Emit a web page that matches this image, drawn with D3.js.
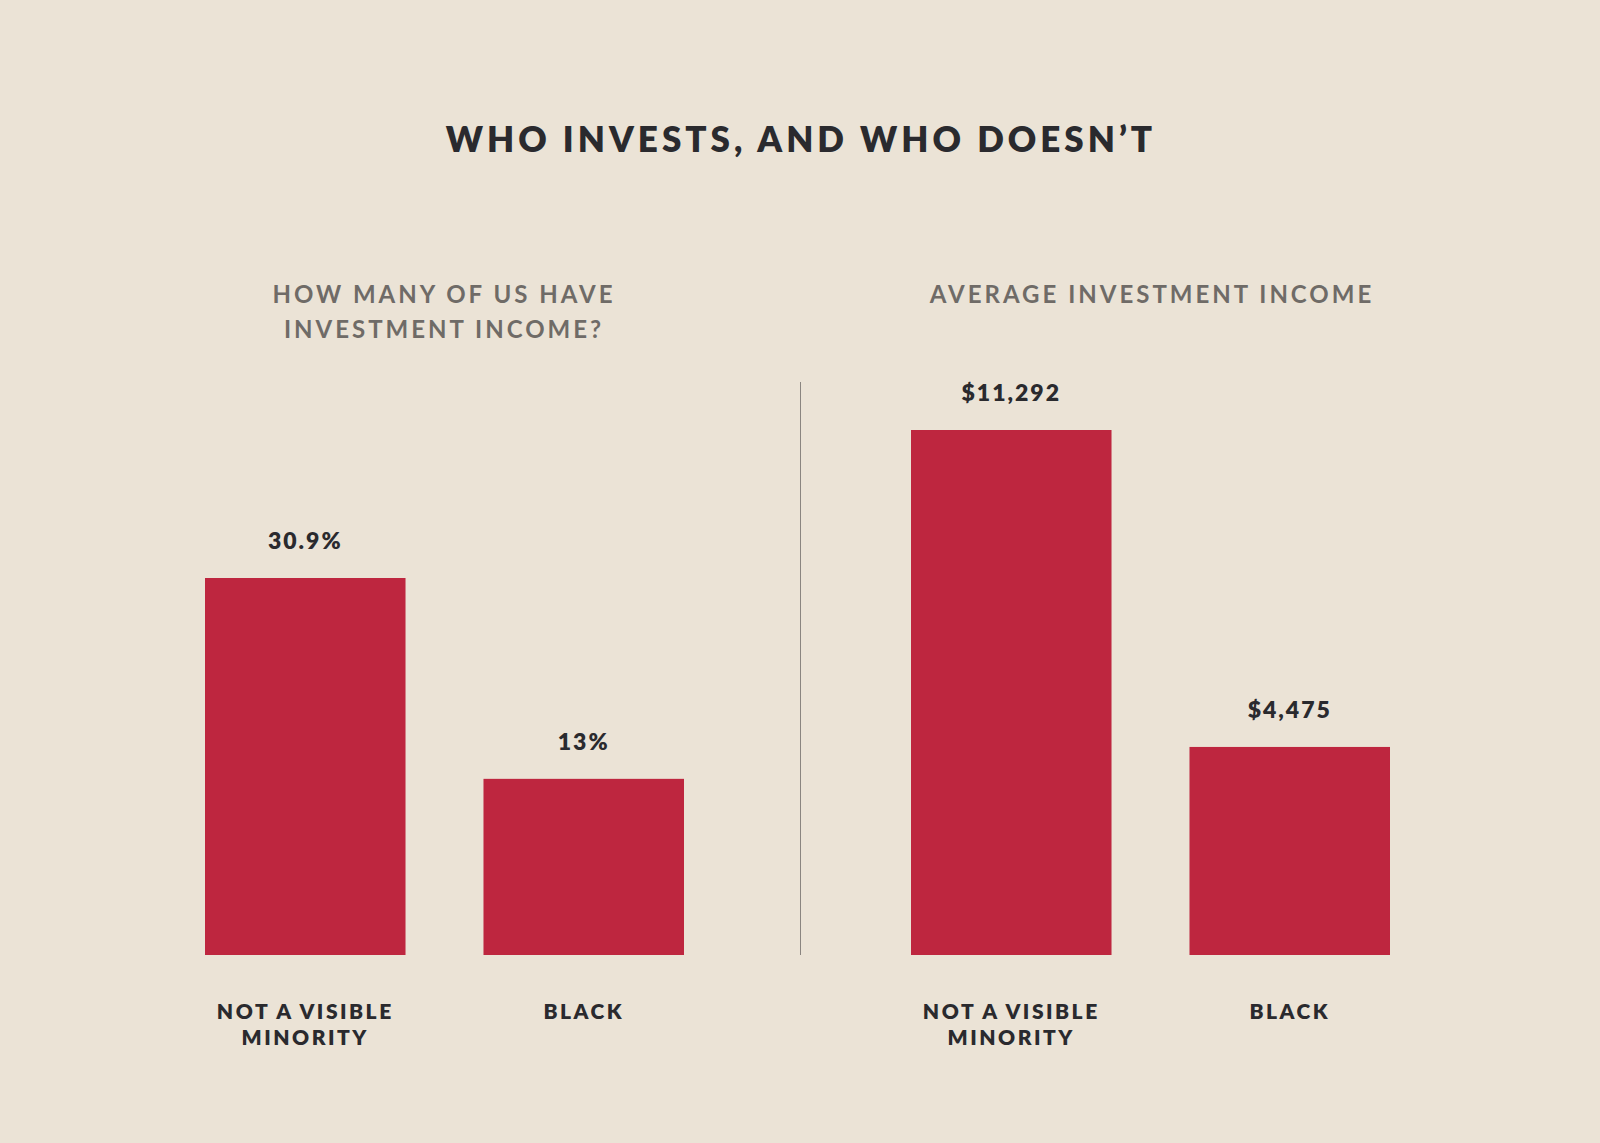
<!DOCTYPE html>
<html><head><meta charset="utf-8">
<script src="https://cdn.jsdelivr.net/npm/d3@7"></script>
<style>body{margin:0;background:#ebe3d6}</style></head>
<body><svg id="c" width="1600" height="1143"></svg>
<script>
const categories = [["NOT A VISIBLE","MINORITY"],["BLACK"]];
const shareValues = [30.9, 13];
const shareLabels = ["30.9%", "13%"];
const incomeValues = [11292, 4475];
const incomeLabels = ["$11,292", "$4,475"];

const svg = d3.select("#c");
svg.append("rect").attr("width",1600).attr("height",1143).attr("fill","#ebe3d6");
const font = "Lato, 'Open Sans', sans-serif";
const dark = "#2a2a2e", gray = "#6f6b67", red = "#be263f";

svg.append("text").attr("x",801).attr("y",152).attr("text-anchor","middle")
  .attr("font-family",font).attr("font-weight",800).attr("font-size",35)
  .attr("letter-spacing",4).attr("fill",dark).text("WHO INVESTS, AND WHO DOESN\u2019T");

function panel(cx, titleLines, values, labels, xRange, yDomain){
  titleLines.forEach((t,i)=>svg.append("text").attr("x",cx).attr("y",303+i*35)
    .attr("text-anchor","middle").attr("font-family",font).attr("font-weight",700)
    .attr("font-size",24).attr("letter-spacing",3).attr("fill",gray).text(t));
  const x = d3.scaleBand().domain(d3.range(values.length)).range(xRange).paddingInner(0.28);
  const y = d3.scaleLinear().domain(yDomain).range([955, yDomain[1]===30.9?578:430]);
  const g = svg.append("g");
  values.forEach((v,i)=>{
    g.append("rect").attr("x",x(i)).attr("width",x.bandwidth())
      .attr("y",y(v)).attr("height",955-y(v)).attr("fill",red);
    g.append("text").attr("x",x(i)+x.bandwidth()/2).attr("y",y(v)-29)
      .attr("text-anchor","middle").attr("font-family",font).attr("font-weight",800)
      .attr("font-size",23).attr("letter-spacing",2).attr("fill",dark).text(labels[i]);
    categories[i].forEach((t,j)=>g.append("text").attr("x",x(i)+x.bandwidth()/2)
      .attr("y",1019+j*26).attr("text-anchor","middle").attr("font-family",font)
      .attr("font-weight",800).attr("font-size",21).attr("letter-spacing",2.5)
      .attr("fill",dark).text(t));
  });
}
panel(444, ["HOW MANY OF US HAVE","INVESTMENT INCOME?"], shareValues, shareLabels, [205,684], [-2.7,30.9]);
panel(1152, ["AVERAGE INVESTMENT INCOME"], incomeValues, incomeLabels, [911,1390], [0,11292]);
svg.append("line").attr("x1",800.5).attr("x2",800.5).attr("y1",382).attr("y2",955)
  .attr("stroke","#8a8580").attr("stroke-width",1);
</script></body></html>
